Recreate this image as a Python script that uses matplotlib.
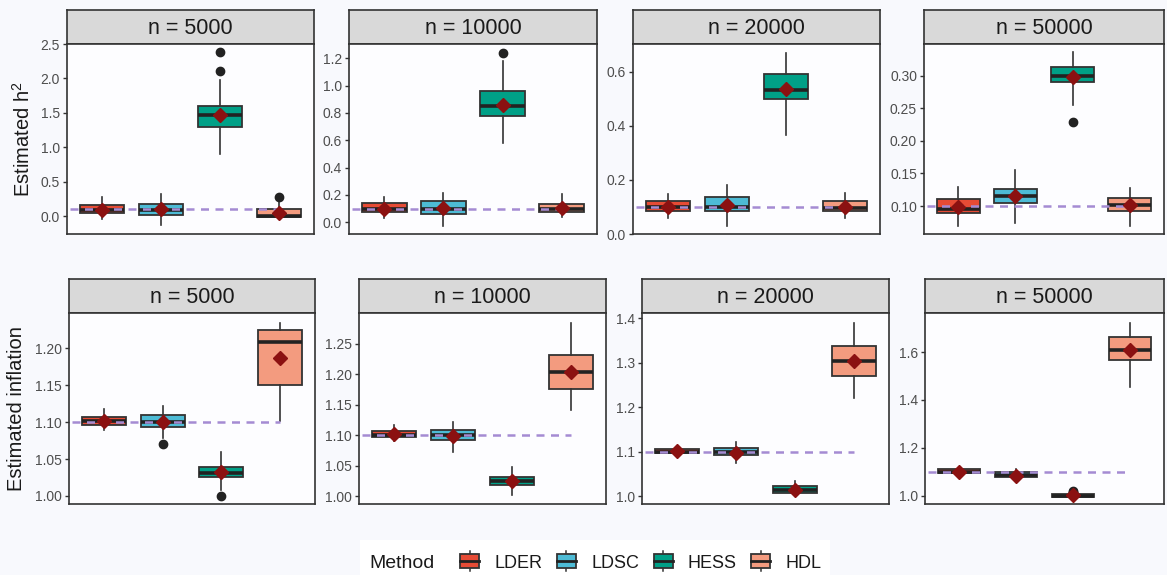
import matplotlib.pyplot as plt
from matplotlib.patches import Rectangle, Patch
from matplotlib.lines import Line2D
from matplotlib.legend_handler import HandlerBase

plt.rcParams['font.family'] = ['Liberation Sans', 'DejaVu Sans']
plt.rcParams['mathtext.default'] = 'regular'

methods = ["LDER", "LDSC", "HESS", "HDL"]
colors = ["#E64B35", "#4DBBD5", "#00A087", "#F39B7F"]
sizes = ["n = 5000", "n = 10000", "n = 20000", "n = 50000"]

# ---- top row: estimated h2 (one inner list per sample size, in method order)
h2_q1 = [[0.043, 0.010, 1.300, -0.015], [0.073, 0.061, 0.780, 0.073],
         [0.085, 0.084, 0.498, 0.084], [0.0888, 0.104, 0.290, 0.0918]]
h2_med = [[0.090, 0.090, 1.470, 0.003], [0.100, 0.100, 0.853, 0.100],
          [0.099, 0.100, 0.531, 0.098], [0.096, 0.115, 0.300, 0.1015]]
h2_q3 = [[0.160, 0.170, 1.600, 0.107], [0.139, 0.154, 0.960, 0.131],
         [0.123, 0.137, 0.593, 0.122], [0.111, 0.126, 0.313, 0.1128]]
h2_lo = [[-0.040, -0.135, 0.905, -0.015], [0.030, -0.027, 0.578, 0.041],
         [0.059, 0.031, 0.367, 0.059], [0.069, 0.074, 0.255, 0.0695]]
h2_hi = [[0.275, 0.320, 1.980, 0.240], [0.183, 0.212, 1.180, 0.205],
         [0.148, 0.180, 0.671, 0.152], [0.129, 0.156, 0.336, 0.127]]
h2_mean = [[0.090, 0.100, 1.465, 0.050], [0.100, 0.103, 0.860, 0.103],
           [0.100, 0.108, 0.535, 0.101], [0.099, 0.116, 0.298, 0.102]]
h2_out = [[[], [], [2.11, 2.38], [0.28]], [[], [], [1.24], []],
          [[], [], [], []], [[], [], [0.229], []]]
h2_true = 0.1

# ---- bottom row: estimated inflation
inf_q1 = [[1.0968, 1.094, 1.0258, 1.151], [1.097, 1.092, 1.018, 1.1756],
          [1.0968, 1.0916, 1.006, 1.271], [1.095, 1.077, 0.996, 1.567]]
inf_med = [[1.101, 1.100, 1.031, 1.209], [1.100, 1.1006, 1.025, 1.203],
           [1.100, 1.0991, 1.0135, 1.305], [1.100, 1.085, 1.000, 1.608]]
inf_q3 = [[1.1072, 1.1095, 1.039, 1.225], [1.106, 1.109, 1.032, 1.231],
          [1.1058, 1.108, 1.0218, 1.338], [1.110, 1.098, 1.006, 1.663]]
inf_lo = [[1.0896, 1.078, 1.008, 1.101], [1.0898, 1.0727, 1.001, 1.141],
          [1.0908, 1.075, 1.0015, 1.221], [1.090, 1.056, 0.995, 1.453]]
inf_hi = [[1.118, 1.122, 1.059, 1.235], [1.116, 1.1215, 1.048, 1.284],
          [1.1126, 1.1216, 1.0345, 1.390], [1.112, 1.1115, 1.008, 1.722]]
inf_mean = [[1.1015, 1.1005, 1.032, 1.187], [1.101, 1.099, 1.024, 1.203],
            [1.101, 1.097, 1.013, 1.304], [1.100, 1.084, 1.003, 1.608]]
inf_out = [[[], [1.071], [1.0], []], [[], [], [], []],
           [[], [], [], []], [[], [], [1.01, 1.015, 1.02], []]]
inf_true = 1.1

# y ticks per panel
h2_ticks = [[0.0, 0.5, 1.0, 1.5, 2.0, 2.5], [0.0, 0.2, 0.4, 0.6, 0.8, 1.0, 1.2],
            [0.0, 0.2, 0.4, 0.6], [0.10, 0.15, 0.20, 0.25, 0.30]]
h2_fmt = ["%.1f", "%.1f", "%.1f", "%.2f"]
inf_ticks = [[1.00, 1.05, 1.10, 1.15, 1.20], [1.00, 1.05, 1.10, 1.15, 1.20, 1.25],
             [1.0, 1.1, 1.2, 1.3, 1.4], [1.0, 1.2, 1.4, 1.6]]
inf_fmt = ["%.2f", "%.2f", "%.1f", "%.1f"]

# ---- layout (pixels)
W, H = 1167, 575
top_x = [(67, 314), (349, 597), (633, 880), (924, 1164)]
bot_x = [(69, 315), (359, 606), (642, 889), (925, 1164)]
top_y = (10, 44, 234)   # strip top, panel top, panel bottom
bot_y = (279, 313, 504)
top_lim = [(-0.26, 2.50), (-0.086, 1.304), (0.0, 0.703), (0.057, 0.349)]
bot_lim = [(0.989, 1.248), (0.987, 1.300), (0.982, 1.412), (0.965, 1.763)]

BG = "#F8F9FD"
EDGE = "#333333"
fig = plt.figure(figsize=(W / 100, H / 100), dpi=100, facecolor=BG)


def px_axes(x0, x1, y0, y1, **kw):
    return fig.add_axes([x0 / W, 1 - y1 / H, (x1 - x0) / W, (y1 - y0) / H], **kw)


def draw_panel(xr, yr, title, q1, med, q3, lo, hi, mean, out, truth, ticks, fmt, lim):
    strip = px_axes(xr[0], xr[1], yr[0], yr[1], facecolor="#D9D9D9")
    strip.set_xticks([])
    strip.set_yticks([])
    for s in strip.spines.values():
        s.set_color(EDGE)
        s.set_linewidth(1.2)
    strip.text(0.5, 0.47, title, ha="center", va="center", fontsize=15.5, color="#1A1A1A")

    ax = px_axes(xr[0], xr[1], yr[1], yr[2], facecolor="#FDFDFF")
    stats = []
    for i in range(4):
        stats.append(dict(q1=q1[i], med=med[i], q3=q3[i], whislo=lo[i],
                          whishi=hi[i], fliers=out[i]))
    bp = ax.bxp(stats, positions=[1, 2, 3, 4], widths=0.75, patch_artist=True,
                showcaps=False,
                boxprops=dict(edgecolor=EDGE, linewidth=1.3),
                medianprops=dict(color="#222222", linewidth=2.6),
                whiskerprops=dict(color=EDGE, linewidth=1.2),
                flierprops=dict(marker="o", markersize=6, markerfacecolor="#222222",
                                markeredgecolor="#222222"))
    for patch, c in zip(bp["boxes"], colors):
        patch.set_facecolor(c)
    ax.plot([0.45, 4.0], [truth, truth], color="#A58BD3", lw=1.8,
            dashes=(3.2, 2.6), zorder=5)
    ax.plot([1, 2, 3, 4], mean, linestyle="none", marker="D", markersize=7,
            color="#8B1111", zorder=6)
    ax.set_xlim(0.4, 4.6)
    ax.set_ylim(*lim)
    ax.set_xticks([])
    ax.set_yticks(ticks)
    ax.set_yticklabels([fmt % t for t in ticks])
    ax.tick_params(axis="y", length=3, width=1, color=EDGE, labelsize=10,
                   labelcolor="#4D4D4D", pad=2)
    for s in ax.spines.values():
        s.set_color(EDGE)
        s.set_linewidth(1.2)
    return ax


for j in range(4):
    draw_panel(top_x[j], top_y, sizes[j], h2_q1[j], h2_med[j], h2_q3[j], h2_lo[j],
               h2_hi[j], h2_mean[j], h2_out[j], h2_true, h2_ticks[j], h2_fmt[j], top_lim[j])
    draw_panel(bot_x[j], bot_y, sizes[j], inf_q1[j], inf_med[j], inf_q3[j], inf_lo[j],
               inf_hi[j], inf_mean[j], inf_out[j], inf_true, inf_ticks[j], inf_fmt[j], bot_lim[j])

fig.text(23 / W, 1 - 139 / H, "Estimated h$^{2}$", rotation=90, ha="center",
         va="center", fontsize=14.5, color="#1A1A1A")
fig.text(17 / W, 1 - 409 / H, "Estimated inflation", rotation=90, ha="center",
         va="center", fontsize=14.5, color="#1A1A1A")


# ---- legend
class BoxKey(HandlerBase):
    def create_artists(self, legend, orig, xd, yd, w, h, fs, trans):
        yc = yd + h / 2
        bh = 1.1 * h
        y0 = yc - bh / 2
        box = Rectangle((xd, y0), w, bh, facecolor=orig.get_facecolor(),
                        edgecolor=EDGE, lw=1.3, transform=trans)
        mid = Line2D([xd, xd + w], [yc, yc], color="#222222", lw=2, transform=trans)
        wt = Line2D([xd + w / 2] * 2, [y0 + bh, y0 + bh + 0.25 * h], color=EDGE,
                    lw=1.1, transform=trans)
        wb = Line2D([xd + w / 2] * 2, [y0 - 0.25 * h, y0], color=EDGE, lw=1.1,
                    transform=trans)
        return [wt, wb, box, mid]


fig.patches.append(Rectangle((360 / W, 0), 470 / W, 35 / H, transform=fig.transFigure,
                             facecolor="white", edgecolor="none", zorder=0))
fig.text(369 / W, 1 - 563 / H, "Method", ha="left", va="center", fontsize=14,
         color="#1A1A1A")
handles = [Patch(facecolor=c) for c in colors]
fig.legend(handles, methods, loc="center left", bbox_to_anchor=(444 / W, 1 - 563 / H),
           ncol=4, frameon=False, fontsize=13, handler_map={Patch: BoxKey()},
           handlelength=1.05, handleheight=0.7, handletextpad=0.85,
           columnspacing=0.8, labelcolor="#1A1A1A")

fig.savefig("out.png", dpi=100, facecolor=BG)
